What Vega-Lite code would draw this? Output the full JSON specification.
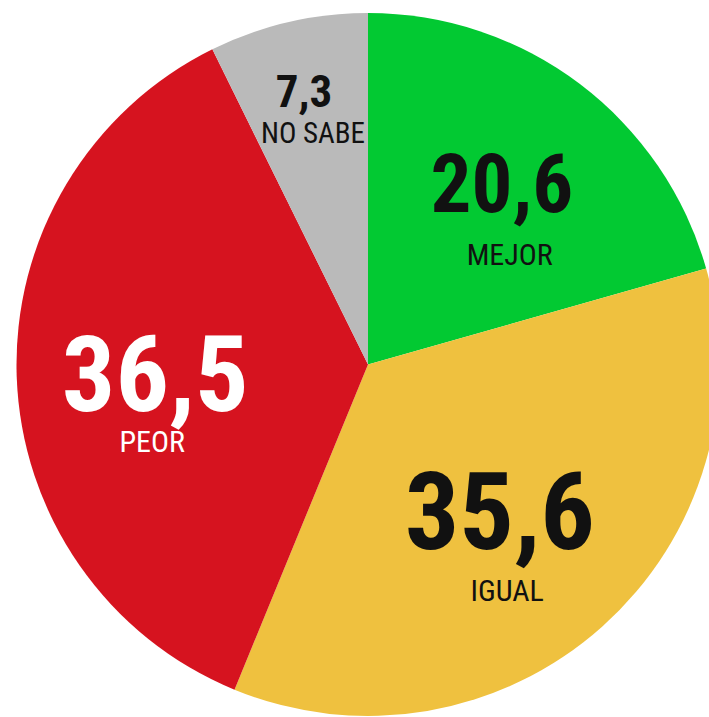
{
  "$schema": "https://vega.github.io/schema/vega-lite/v6.json",
  "width": 682,
  "height": 705,
  "padding": {"left": 27, "top": 12, "right": 0, "bottom": 0},
  "autosize": {"type": "none"},
  "background": "white",
  "config": {"view": {"stroke": null}},
  "data": {
    "values": [
      {"cat": "MEJOR", "value": 20.6, "num": "20,6", "idx": 1},
      {"cat": "IGUAL", "value": 35.6, "num": "35,6", "idx": 2},
      {"cat": "PEOR", "value": 36.5, "num": "36,5", "idx": 3},
      {"cat": "NO SABE", "value": 7.3, "num": "7,3", "idx": 4}
    ]
  },
  "encoding": {
    "theta": {"field": "value", "type": "quantitative", "stack": true},
    "order": {"field": "idx", "type": "quantitative"}
  },
  "layer": [
    {
      "mark": {"type": "arc", "outerRadius": 351.5, "strokeWidth": 0},
      "encoding": {
        "color": {"field": "cat", "type": "nominal", "legend": null,
          "scale": {"domain": ["MEJOR", "IGUAL", "PEOR", "NO SABE"], "range": ["#02c932", "#efc13f", "#d6131f", "#bababa"]}}
      }
    },
    {
      "mark": {"type": "text", "radius": 222, "dy": 25, "font": "'Roboto Condensed', 'DejaVu Sans Condensed', 'Liberation Sans Narrow', Roboto, sans-serif", "fontWeight": "bold", "fontSize": 81, "align": "center", "baseline": "alphabetic", "color": "#111111"},
      "encoding": {"text": {"condition": {"test": "datum.cat === 'MEJOR'", "field": "num"}, "value": ""}}
    },
    {
      "mark": {"type": "text", "radius": 235, "dy": 88, "font": "'Roboto Condensed', 'DejaVu Sans Condensed', 'Liberation Sans Narrow', Roboto, sans-serif", "fontSize": 30, "align": "center", "baseline": "alphabetic", "color": "#111111"},
      "encoding": {"text": {"condition": {"test": "datum.cat === 'MEJOR'", "field": "cat"}, "value": ""}}
    },
    {
      "mark": {"type": "text", "radius": 198, "dy": 37, "font": "'Roboto Condensed', 'DejaVu Sans Condensed', 'Liberation Sans Narrow', Roboto, sans-serif", "fontWeight": "bold", "fontSize": 108, "align": "center", "baseline": "alphabetic", "color": "#111111"},
      "encoding": {"text": {"condition": {"test": "datum.cat === 'IGUAL'", "field": "num"}, "value": ""}}
    },
    {
      "mark": {"type": "text", "radius": 209, "dy": 81, "font": "'Roboto Condensed', 'DejaVu Sans Condensed', 'Liberation Sans Narrow', Roboto, sans-serif", "fontSize": 30, "align": "center", "baseline": "alphabetic", "color": "#111111"},
      "encoding": {"text": {"condition": {"test": "datum.cat === 'IGUAL'", "field": "cat"}, "value": ""}}
    },
    {
      "mark": {"type": "text", "radius": 213, "dy": 39, "font": "'Roboto Condensed', 'DejaVu Sans Condensed', 'Liberation Sans Narrow', Roboto, sans-serif", "fontWeight": "bold", "fontSize": 106, "align": "center", "baseline": "alphabetic", "color": "#ffffff"},
      "encoding": {"text": {"condition": {"test": "datum.cat === 'PEOR'", "field": "num"}, "value": ""}}
    },
    {
      "mark": {"type": "text", "radius": 216, "dy": 80, "font": "'Roboto Condensed', 'DejaVu Sans Condensed', 'Liberation Sans Narrow', Roboto, sans-serif", "fontSize": 30, "align": "center", "baseline": "alphabetic", "color": "#ffffff"},
      "encoding": {"text": {"condition": {"test": "datum.cat === 'PEOR'", "field": "cat"}, "value": ""}}
    },
    {
      "mark": {"type": "text", "radius": 282, "dy": 17, "font": "'Roboto Condensed', 'DejaVu Sans Condensed', 'Liberation Sans Narrow', Roboto, sans-serif", "fontWeight": "bold", "fontSize": 45, "align": "center", "baseline": "alphabetic", "color": "#111111"},
      "encoding": {"text": {"condition": {"test": "datum.cat === 'NO SABE'", "field": "num"}, "value": ""}}
    },
    {
      "mark": {"type": "text", "radius": 242, "dy": 14, "font": "'Roboto Condensed', 'DejaVu Sans Condensed', 'Liberation Sans Narrow', Roboto, sans-serif", "fontSize": 29, "align": "center", "baseline": "alphabetic", "color": "#111111"},
      "encoding": {"text": {"condition": {"test": "datum.cat === 'NO SABE'", "field": "cat"}, "value": ""}}
    }
  ]
}
